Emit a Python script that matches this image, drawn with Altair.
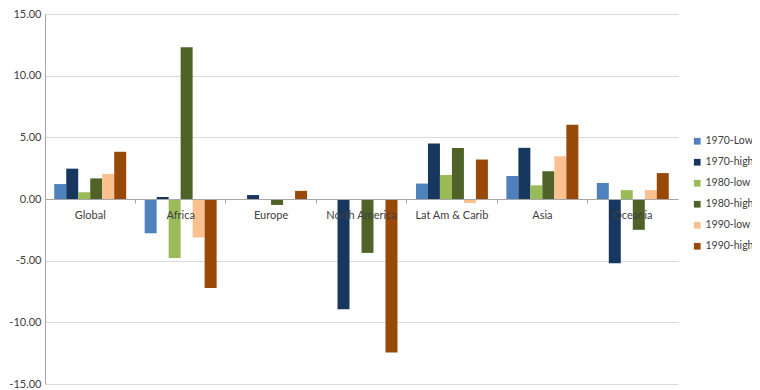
import altair as alt
import pandas as pd

regions = ["Global", "Africa", "Europe", "North America", "Lat Am & Carib", "Asia", "Oceania"]
series = ["1970-Low", "1970-high", "1980-low", "1980-high", "1990-low", "1990-high"]
colors = ["#4F81BD", "#17375E", "#9BBB59", "#4F6228", "#FAC090", "#984807"]

v1970_low = [1.21, -2.78, 0.0, 0.0, 1.25, 1.86, 1.30]
v1970_high = [2.46, 0.16, 0.32, -8.94, 4.50, 4.15, -5.20]
v1980_low = [0.55, -4.79, 0.0, 0.0, 1.94, 1.11, 0.72]
v1980_high = [1.67, 12.30, -0.48, -4.37, 4.13, 2.25, -2.50]
v1990_low = [2.03, -3.12, 0.0, 0.0, -0.33, 3.46, 0.72]
v1990_high = [3.83, -7.22, 0.66, -12.44, 3.20, 6.03, 2.10]

y_ticks = [-15, -10, -5, 0, 5, 10, 15]

all_values = [v1970_low, v1970_high, v1980_low, v1980_high, v1990_low, v1990_high]
rows = []
for s, vals in zip(series, all_values):
    for r, v in zip(regions, vals):
        rows.append({"region": r, "series": s, "value": v})
df = pd.DataFrame(rows)

FONT = "Lato"
H = 370

chart = alt.Chart(df).mark_bar().encode(
    x=alt.X(
        "region:N",
        sort=regions,
        scale=alt.Scale(paddingInner=0, paddingOuter=0),
        axis=alt.Axis(
            title=None, labelAngle=0, bandPosition=0, offset=-H / 2, zindex=1,
            domainColor="#A6A6A6", tickColor="#A6A6A6", tickSize=4,
            labelPadding=6, labelFont=FONT, labelFontSize=11, labelColor="#404040",
            grid=False,
        ),
    ),
    xOffset=alt.XOffset(
        "series:N", sort=series,
        scale=alt.Scale(paddingInner=0, paddingOuter=0.77),
    ),
    y=alt.Y(
        "value:Q",
        scale=alt.Scale(domain=[-15, 15], nice=False, zero=False),
        axis=alt.Axis(
            title=None, values=y_ticks,
            labelExpr="replace(format(datum.value, '.2f'), '\u2212', '-')",
            gridColor="#D9D9D9", domainColor="#A6A6A6", ticks=False,
            labelPadding=4, labelFont=FONT, labelFontSize=11, labelColor="#404040",
        ),
    ),
    color=alt.Color(
        "series:N", sort=series,
        scale=alt.Scale(domain=series, range=colors),
        legend=alt.Legend(
            title=None, orient="none", legendX=647, legendY=122,
            symbolType="square", symbolSize=45, symbolStrokeWidth=0,
            rowPadding=10, labelOffset=3, labelFont=FONT, labelFontSize=10.5,
            labelColor="#404040",
        ),
    ),
).properties(
    width=633,
    height=H,
    autosize=alt.AutoSizeParams(type="none"),
    padding={"left": 37, "top": 6, "right": 74, "bottom": 5},
).configure_view(stroke=None)

chart.save("out.html", embed_options={"renderer": "svg", "actions": False})
